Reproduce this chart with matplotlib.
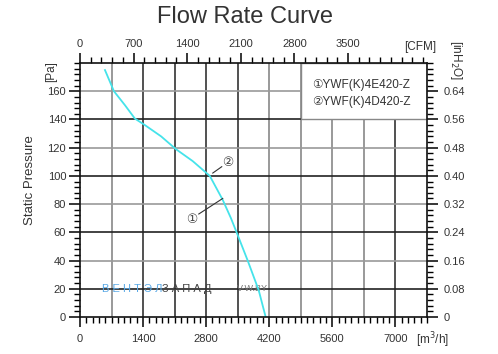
import matplotlib
matplotlib.use('Agg')
import matplotlib.pyplot as plt
from matplotlib.ticker import MultipleLocator, FixedLocator
from matplotlib.patches import Rectangle
import numpy as np

# 曲线数据 (m3/h, Pa)
flow = [554, 753, 1000, 1218, 1440, 1800, 2126, 2500, 2880, 3167, 3350, 3500, 3721, 3965, 4120]
pressure = [175, 160, 150, 140.6, 136, 128, 119, 110.5, 100, 83, 70, 58, 40, 19, 0]

models = ['①YWF(K)4E420-Z', '②YWF(K)4D420-Z']

x_ticks = [0, 1400, 2800, 4200, 5600, 7000]
cfm_ticks = [0, 700, 1400, 2100, 2800, 3500]
y_ticks = [0, 20, 40, 60, 80, 100, 120, 140, 160]
inh2o_ticks = [0, 0.08, 0.16, 0.24, 0.32, 0.40, 0.48, 0.56, 0.64]
inh2o_labels = ['0', '0.08', '0.16', '0.24', '0.32', '0.40', '0.48', '0.56', '0.64']
grid_x = [700, 1400, 2100, 2800, 3500, 4200, 4900, 5600, 6300, 7000]
grid_y = [20, 40, 60, 80, 100, 120, 140, 160]

plt.rcParams['font.family'] = ['Liberation Sans', 'DejaVu Sans']
txt = '#333333'

fig = plt.figure(figsize=(4.98, 3.54), dpi=100)
ax = fig.add_axes([80 / 498, 1 - 317 / 354, 347 / 498, 254 / 354])
ax.set_xlim(0, 7700)
ax.set_ylim(0, 180)

# 网格
for g in grid_x:
    c = '#333333' if g in (1400, 2100, 2800, 3500, 7000) else '#888888'
    ax.axvline(g, color=c, lw=1.2, zorder=1)
for g in grid_y:
    c = '#222222' if g in (20, 60, 100, 140) else '#999999'
    ax.axhline(g, color=c, lw=1.2, zorder=1)

# 型号框
ax.add_patch(Rectangle((4900, 140), 2800, 40, facecolor='white',
                       edgecolor='#888888', lw=1.0, zorder=2))
ax.text(5140, 164.5, models[0], fontsize=8.5, color=txt, va='center', zorder=3)
ax.text(5140, 152.5, models[1], fontsize=8.5, color=txt, va='center', zorder=3)

# 水印
ax.text(480, 20, 'В Е Н Т Э Л', fontsize=8, color='#5aa9e6', va='center', zorder=2)
ax.text(1830, 20, 'З А П А Д', fontsize=8, color='#444444', va='center', zorder=2)
ax.text(3480, 20, 'V-W.BY', fontsize=6.5, color='#777777', va='center', zorder=2)

# 主曲线
ax.plot(flow, pressure, color='#45e3ea', lw=1.3, zorder=4)

# 标注
ax.plot([2946, 3145], [102, 106.5], color='#333333', lw=0.8, zorder=4)
ax.text(3278, 109, '②', fontsize=9, color='#444444', ha='center', va='center', zorder=4)
ax.plot([3167, 2636], [84, 73], color='#333333', lw=0.8, zorder=4)
ax.text(2481, 69, '①', fontsize=9, color='#444444', ha='center', va='center', zorder=4)

# 坐标轴
for s in ax.spines.values():
    s.set_color('#111111')
    s.set_linewidth(1.2)
    s.set_zorder(5)

ax.set_xticks(x_ticks)
ax.xaxis.set_minor_locator(MultipleLocator(140))
ax.set_yticks(y_ticks)
ax.yaxis.set_minor_locator(MultipleLocator(4))
ax.tick_params(axis='x', which='major', direction='out', length=7, width=1.1, pad=5,
               labelsize=8, labelcolor=txt)
ax.tick_params(axis='x', which='minor', direction='out', length=4, width=1.0)
ax.tick_params(axis='y', which='major', direction='out', length=8, width=1.1, pad=2,
               labelsize=8, labelcolor=txt)
ax.tick_params(axis='y', which='minor', direction='out', length=4, width=1.0)

top = ax.secondary_xaxis('top', functions=(lambda q: q / 1.699, lambda c: c * 1.699))
top.set_xticks(cfm_ticks)
top.xaxis.set_minor_locator(MultipleLocator(140))
top.tick_params(which='major', direction='out', length=7, width=1.1, pad=3,
                labelsize=8, labelcolor=txt)
top.tick_params(which='minor', direction='out', length=4, width=1.0)
top.spines['top'].set_visible(False)

right = ax.secondary_yaxis('right', functions=(lambda p: p / 250, lambda w: w * 250))
right.yaxis.set_major_locator(FixedLocator(inh2o_ticks))
right.set_yticklabels(inh2o_labels)
right.yaxis.set_minor_locator(MultipleLocator(0.016))
right.tick_params(which='major', direction='out', length=8, width=1.1, pad=4,
                  labelsize=8, labelcolor=txt)
right.tick_params(which='minor', direction='out', length=4, width=1.0)
right.spines['right'].set_visible(False)

# 文字
fig.text(245 / 498, 1 - 17 / 354, 'Flow Rate Curve', fontsize=17, color=txt,
         ha='center', va='center')
fig.text(30 / 498, 1 - 180 / 354, 'Static Pressure', fontsize=9.5, color=txt,
         rotation=90, ha='center', va='center')
fig.text(51 / 498, 1 - 72 / 354, '[Pa]', fontsize=8.5, color=txt,
         rotation=90, ha='center', va='center')
fig.text(456 / 498, 1 - 60 / 354, '[inH$_2$O]', fontsize=8.5, color=txt,
         rotation=-90, ha='center', va='center')
fig.text(420 / 498, 1 - 47 / 354, '[CFM]', fontsize=8.5, color=txt,
         ha='center', va='center')
fig.text(432 / 498, 1 - 340 / 354, '[m$^3$/h]', fontsize=8.5, color=txt,
         ha='center', va='center')

fig.savefig('out.png', dpi=100)
